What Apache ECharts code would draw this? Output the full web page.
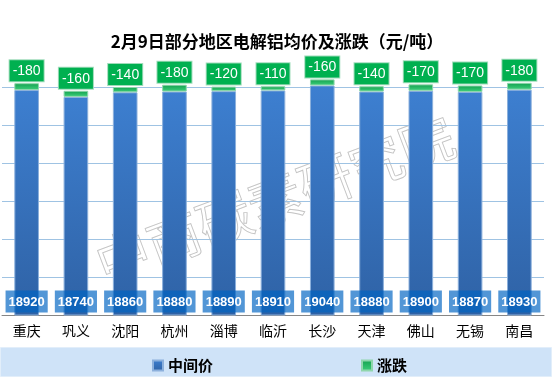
<!DOCTYPE html>
<html>
<head>
<meta charset="utf-8">
<script src="https://cdn.jsdelivr.net/npm/echarts@6/dist/echarts.min.js"></script>
<style>html,body{margin:0;padding:0;background:#fff;}#c{width:554px;height:381px;}</style>
</head>
<body>
<div id="c"></div>
<script>
var categories = ['重庆','巩义','沈阳','杭州','淄博','临沂','长沙','天津','佛山','无锡','南昌'];
var midPrice = [18920,18740,18860,18880,18890,18910,19040,18880,18900,18870,18930];
var change = [-180,-160,-140,-180,-120,-110,-160,-140,-170,-170,-180];
var changeAbs = change.map(function(v){return Math.abs(v);});

var chart = echarts.init(document.getElementById('c'), null, {renderer:'canvas'});
var font = '"Noto Sans CJK SC", "Microsoft YaHei", sans-serif';
chart.setOption({
  animation: false,
  textStyle: {fontFamily: font},
  title: {
    text: '2月9日部分地区电解铝均价及涨跌（元/吨）',
    left: 'center', top: 28,
    textStyle: {fontSize: 17, fontWeight: 'bold', color: '#000', fontFamily: font}
  },
  graphic: [
    {type:'rect', left:0, top:347, shape:{width:551, height:29}, style:{fill:'#cfe3f8', stroke:'#e2eefa', lineWidth:1}, z:-10},
    {type:'text', x:275, y:200, rotation:0.36, originX:0, originY:0, z:-5,
      style:{text:'中商碳素研究院', font:'normal 54px "Noto Sans CJK SC"', fill:'rgba(0,0,0,0)', stroke:'#c4c4c4', lineWidth:0.9, textAlign:'center', textVerticalAlign:'middle'}}
  ],
  legend: {
    data: ['中间价','涨跌'],
    left: 147, top: 353,
    itemWidth: 10, itemHeight: 10, itemGap: 148,
    icon: 'rect',
    textStyle: {fontSize: 15, fontWeight: 'bold', color: '#000', fontFamily: font}
  },
  grid: {left: 2, right: 10, top: 79.4, bottom: 66, containLabel: false},
  xAxis: {
    type: 'category', data: categories,
    axisLine: {lineStyle: {color: '#868686'}},
    axisTick: {length: 5, lineStyle: {color: '#868686'}},
    axisLabel: {fontSize: 14, color: '#000', margin: 9, fontFamily: font, interval: 0}
  },
  yAxis: {
    type: 'value', min: 13000, max: 19200, interval: 1000,
    axisLabel: {show: false}, axisLine: {show: false}, axisTick: {show: false},
    splitLine: {show: true, showMaxLine: false, showMinLine: false, lineStyle: {color: '#9fc3e3', width: 1}}
  },
  series: [
    {
      name: '中间价', type: 'bar', stack: 'a', barWidth: '50%', data: midPrice,
      itemStyle: {
        color: new echarts.graphic.LinearGradient(0,0,0,1,[{offset:0,color:'#3d7fd0'},{offset:1,color:'#2f62a5'}]),
        borderColor: '#8cb0dc', borderWidth: 1
      },
      label: {
        show: true, position: 'insideBottom', distance: 3,
        color: '#fff', fontSize: 13, fontWeight: 'bold', fontFamily: '"Liberation Sans", Arial, sans-serif',
        backgroundColor: 'rgba(0,100,195,0.68)', padding: [5, 3, 4, 3]
      }
    },
    {
      name: '涨跌', type: 'bar', stack: 'a', barWidth: '50%', data: changeAbs,
      itemStyle: {
        color: new echarts.graphic.LinearGradient(0,0,0,1,[{offset:0,color:'#12a04e'},{offset:1,color:'#3fd07c'}]),
        borderColor: '#8fd6ac', borderWidth: 1
      },
      label: {
        show: true, position: 'top', distance: 2,
        formatter: function(p){ return String(change[p.dataIndex]); },
        color: '#fff', fontSize: 14, fontFamily: '"Liberation Sans", Arial, sans-serif',
        backgroundColor: '#00b050', borderColor: '#9fdcba', borderWidth: 1, padding: [4, 3, 3, 3]
      }
    }
  ]
});
</script>
</body>
</html>
